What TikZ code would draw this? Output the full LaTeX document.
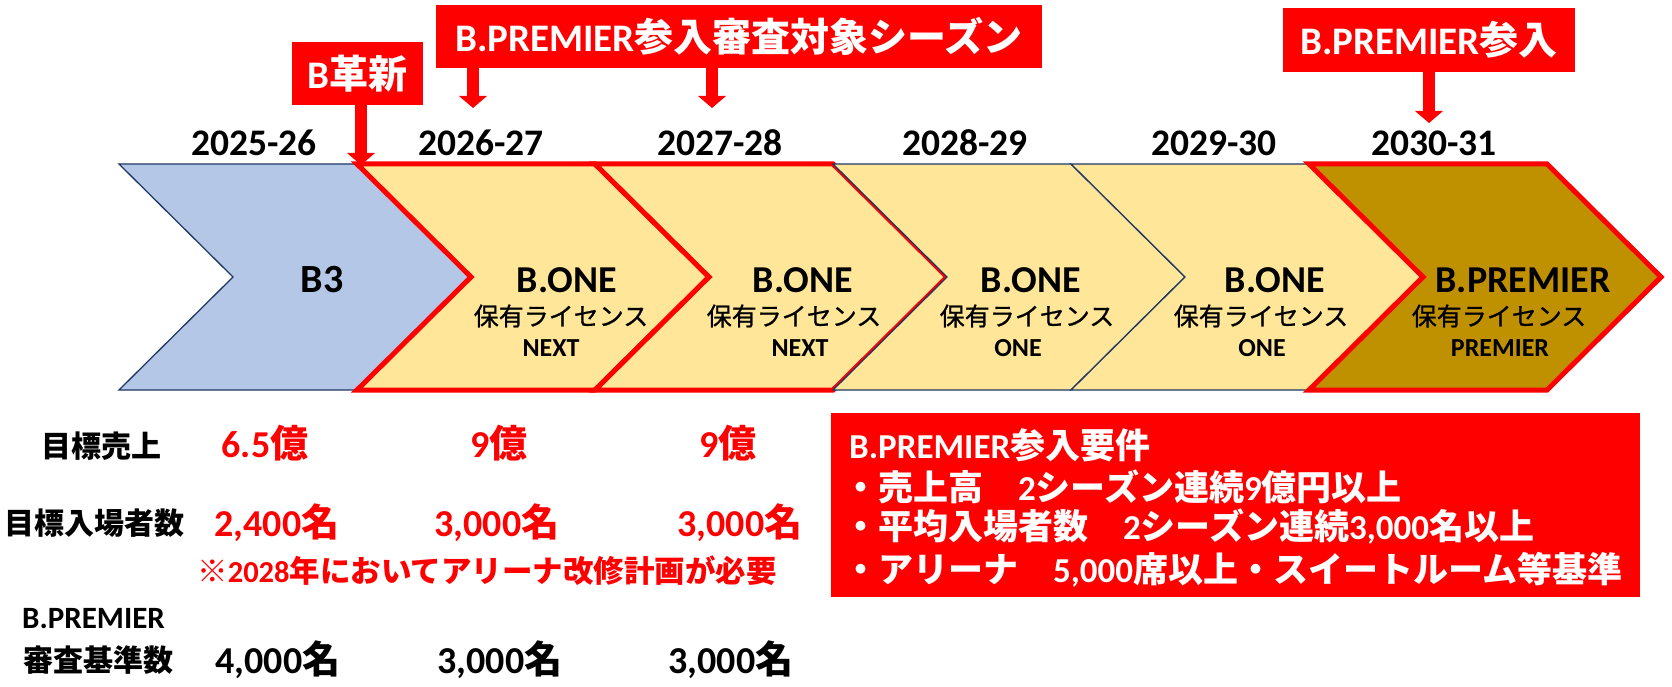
\documentclass[tikz,border=0pt]{standalone}
\usepackage{fontspec}
\setmainfont{Carlito}
\newfontfamily\jpfont{Noto Sans CJK JP}
\newfontfamily\jpmed[FakeBold=0.8]{Noto Sans CJK JP}
\usetikzlibrary{arrows.meta}
\newcommand\cj[1]{{\jpfont #1}}
\newcommand\fsz[1]{\fontsize{#1}{#1}\selectfont}
\definecolor{bred}{HTML}{FF0000}
\definecolor{yfill}{HTML}{FFE699}
\definecolor{bfill}{HTML}{B4C7E7}
\definecolor{gfill}{HTML}{BF9000}
\definecolor{navy}{HTML}{203864}
\begin{document}
\begin{tikzpicture}[x=1pt,y=-1pt,
  year/.style={inner sep=0pt, font=\bfseries\fsz{37.5}},
  bigt/.style={inner sep=0pt, font=\bfseries\fsz{38}},
  lic/.style={inner sep=0pt, font=\jpmed\fsz{25}},
  small/.style={inner sep=0pt, font=\bfseries\fsz{26}},
  callbox/.style={fill=bred, text=white, inner sep=0pt, font=\bfseries\fsz{39}},
  callarrow/.style={draw=bred, line width=12pt, -{Triangle[width=28pt,length=12pt,line width=0pt]}},
  rowlbl/.style={inner sep=0pt, font=\bfseries\fsz{30}},
  redval/.style={inner sep=0pt, text=bred, font=\bfseries\fsz{38}},
  blkval/.style={inner sep=0pt, font=\bfseries\fsz{38}},
  reqline/.style={inner sep=0pt, anchor=west, text=white, font=\bfseries\fsz{35}},
  thinedge/.style={draw=navy, line width=1.3pt, line join=miter},
  rededge/.style={draw=bred, line width=5pt, line join=miter}
]
\useasboundingbox (0,0) rectangle (1672,687);

% chevrons
\path[thinedge, fill=bfill] (119,164) -- (357,164) -- (471,277) -- (357,390) -- (119,390) -- (233,277) -- cycle;
\path[rededge, fill=yfill] (357,164) -- (595,164) -- (709,277) -- (595,390) -- (357,390) -- (471,277) -- cycle;
\path[rededge, fill=yfill] (595,164) -- (833,164) -- (947,277) -- (833,390) -- (595,390) -- (709,277) -- cycle;
\path[thinedge, fill=yfill] (833,164) -- (1071,164) -- (1185,277) -- (1071,390) -- (833,390) -- (947,277) -- cycle;
\path[thinedge, fill=yfill] (1071,164) -- (1309,164) -- (1423,277) -- (1309,390) -- (1071,390) -- (1185,277) -- cycle;
\path[rededge, fill=gfill] (1309,164) -- (1547,164) -- (1661,277) -- (1547,390) -- (1309,390) -- (1423,277) -- cycle;

% year labels
\node[year] (y1) at (254,143) {2025-26};
\node[year] (y2) at (481,143) {2026-27};
\node[year] (y3) at (720,143) {2027-28};
\node[year] (y4) at (965,143) {2028-29};
\node[year] (y5) at (1214,143) {2029-30};
\node[year] (y6) at (1434,143) {2030-31};

% chevron texts
\node[inner sep=0pt, font=\bfseries\fsz{40}] (b3) at (322,280) {B3};
\node[bigt] (n1) at (567,280) {B.ONE};
\node[lic]  (l1) at (561,316) {保有ライセンス};
\node[small] (s1) at (551,348) {NEXT};
\node[bigt] (n2) at (803,280) {B.ONE};
\node[lic]  (l2) at (794,316) {保有ライセンス};
\node[small] (s2) at (800,348) {NEXT};
\node[bigt] (n3) at (1031,280) {B.ONE};
\node[lic]  (l3) at (1027,316) {保有ライセンス};
\node[small] (s3) at (1018,348) {ONE};
\node[bigt] (n4) at (1275,280) {B.ONE};
\node[lic]  (l4) at (1261,316) {保有ライセンス};
\node[small] (s4) at (1262,348) {ONE};
\node[bigt] (n5) at (1523,280) {B.PREMIER};
\node[lic]  (l5) at (1499,316) {保有ライセンス};
\node[small] (s5) at (1500,348) {PREMIER};

% callouts
\node[callbox, minimum width=131pt, minimum height=63pt] (cb1) at (357.5,73.5) {B\cj{革新}};
\node[callbox, minimum width=606pt, minimum height=63pt] (cb2) at (739,36.5) {B.PREMIER\cj{参入審査対象シーズン}};
\node[callbox, minimum width=292pt, minimum height=64pt] (cb3) at (1429,40) {B.PREMIER\cj{参入}};
\coordinate (t1) at (361,165);
\coordinate (t2) at (473,108);
\coordinate (t3) at (712,108);
\coordinate (t4) at (1429,123);
\draw[callarrow] (cb1.south -| t1) -- (t1);
\draw[callarrow] (cb2.south -| t2) -- (t2);
\draw[callarrow] (cb2.south -| t3) -- (t3);
\draw[callarrow] (cb3.south -| t4) -- (t4);

% bottom-left table
\node[rowlbl] (r1) at (101,446) {\cj{目標売上}};
\node[redval] (v11) at (265,443) {6.5\cj{億}};
\node[redval] (v12) at (499,443) {9\cj{億}};
\node[redval] (v13) at (728,443) {9\cj{億}};
\node[rowlbl] (r2) at (95,523) {\cj{目標入場者数}};
\node[redval] (v21) at (277,523) {2,400\cj{名}};
\node[redval] (v22) at (497,523) {3,000\cj{名}};
\node[redval] (v23) at (740,523) {3,000\cj{名}};
\node[inner sep=0pt, text=bred, font=\bfseries\fsz{30.5}] (note) at (487,571) {\cj{※}2028\cj{年においてアリーナ改修計画が必要}};
\node[inner sep=0pt, anchor=west, font=\bfseries\fsz{31}] (r3a) at (22,619) {B.PREMIER};
\node[rowlbl, anchor=west] (r3b) at (23,660) {\cj{審査基準数}};
\node[blkval] (v31) at (278,660) {4,000\cj{名}};
\node[blkval] (v32) at (500,660) {3,000\cj{名}};
\node[blkval] (v33) at (731,660) {3,000\cj{名}};

% requirements box
\node[fill=bred, minimum width=809pt, minimum height=184pt, inner sep=0pt] (req) at (1235.5,505) {};
\node[reqline] (q1) at (849,445) {B.PREMIER\cj{参入要件}};
\node[reqline] (q2) at (843,487) {\cj{・売上高　}2\cj{シーズン連続}9\cj{億円以上}};
\node[reqline] (q3) at (843,527) {\cj{・平均入場者数　}2\cj{シーズン連続}3,000\cj{名以上}};
\node[reqline] (q4) at (843,570) {\cj{・アリーナ　}5,000\cj{席以上・スイートルーム等基準}};
\end{tikzpicture}
\end{document}
